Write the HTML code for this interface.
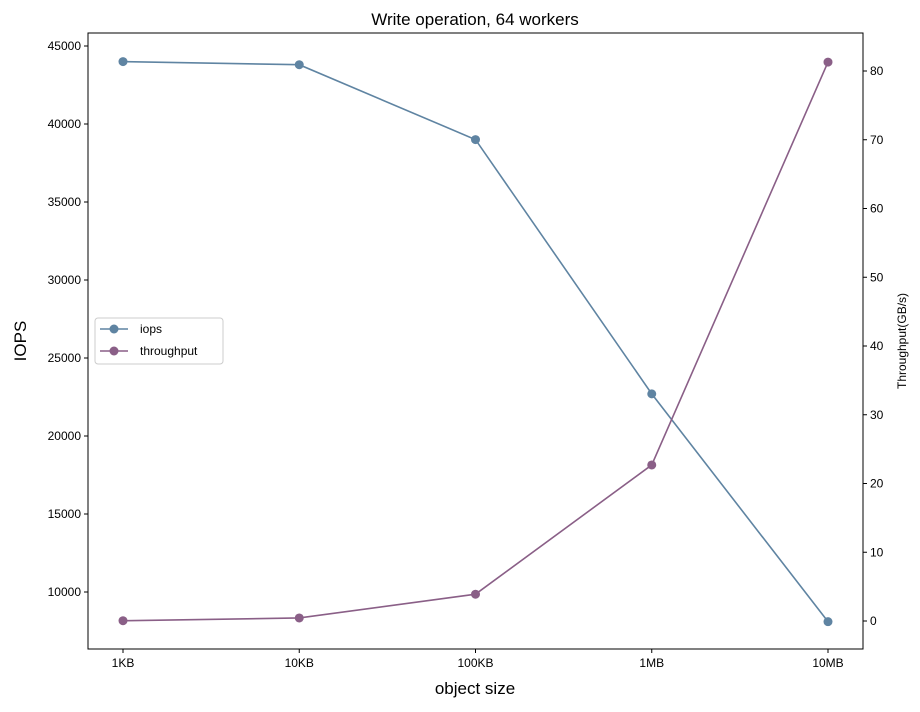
<!DOCTYPE html>
<html><head><meta charset="utf-8"><style>
body{margin:0;background:#fff;font-family:"Liberation Sans",sans-serif;}
svg text{font-family:"Liberation Sans","DejaVu Sans",sans-serif;}
</style></head><body>
<svg id="chart" width="920" height="707" xmlns="http://www.w3.org/2000/svg"></svg>
<script>
const categories=["1KB","10KB","100KB","1MB","10MB"];
const iopsValues=[44000,43800,39000,22700,8100];
const throughputValues=[0.04,0.44,3.9,22.7,81.3];
const leftTicks=[10000,15000,20000,25000,30000,35000,40000,45000];
const rightTicks=[0,10,20,30,40,50,60,70,80];
const L=88,R=863,T=33,B=649;
const yL=v=>592-(v-10000)/1000*15.6;
const yR=v=>621-v*6.875;
const xS=i=>123+i*(828-123)/(categories.length-1);
const svg=document.getElementById('chart');
const NS="http://www.w3.org/2000/svg";
function mk(tag,attrs,parent){const e=document.createElementNS(NS,tag);for(const k in attrs)e.setAttribute(k,attrs[k]);(parent||svg).appendChild(e);return e;}
function txt(s,attrs){const e=mk('text',attrs);e.textContent=s;return e;}
let t=txt("Write operation, 64 workers",{x:475,y:25,'text-anchor':'middle','font-size':17});

let f=mk('rect',{x:L,y:T,width:R-L,height:B-T,fill:'none',stroke:'#000','stroke-width':1});

leftTicks.forEach(v=>{const y=yL(v);mk('line',{x1:L-4,x2:L,y1:y,y2:y,stroke:'#000'});
 const e=txt(v,{x:L-7,y:y+4,'text-anchor':'end','font-size':12});
 });
rightTicks.forEach(v=>{const y=yR(v);mk('line',{x1:R,x2:R+4,y1:y,y2:y,stroke:'#000'});
 const e=txt(v,{x:R+7,y:y+4,'text-anchor':'start','font-size':12});
 });
categories.forEach((c,i)=>{const x=xS(i);mk('line',{x1:x,x2:x,y1:B,y2:B+4,stroke:'#000'});
 const e=txt(c,{x:x,y:B+18,'text-anchor':'middle','font-size':12});
 });
t=txt("object size",{x:475,y:694,'text-anchor':'middle','font-size':17});

t=txt("IOPS",{x:0,y:0,'text-anchor':'middle','font-size':17,transform:'translate(26,341) rotate(-90)'});

t=txt("Throughput(GB/s)",{x:0,y:0,'text-anchor':'middle','font-size':12,transform:'translate(906,341) rotate(-90)'});

function series(vals,yf,color,name){
 const p=mk('polyline',{points:vals.map((v,i)=>xS(i)+','+yf(v)).join(' '),fill:'none',stroke:color,'stroke-width':1.6});
 
 vals.forEach((v,i)=>{const c=mk('circle',{cx:xS(i),cy:yf(v),r:4.5,fill:color});
  });
}
series(iopsValues,yL,'#5f84a2','iops');
series(throughputValues,yR,'#8a5f87','throughput');
const g=mk('g',{});
mk('rect',{x:95,y:318,width:128,height:46,fill:'#fff',stroke:'#ccc',rx:3},g);
[['iops','#5f84a2',329],['throughput','#8a5f87',351]].forEach(([n,c,y])=>{
 mk('line',{x1:100,x2:128,y1:y,y2:y,stroke:c,'stroke-width':1.6},g);
 mk('circle',{cx:114,cy:y,r:4.5,fill:c},g);
 const e=mk('text',{x:140,y:y+4,'font-size':12},g);e.textContent=n;
 
});
</script>
</body></html>
